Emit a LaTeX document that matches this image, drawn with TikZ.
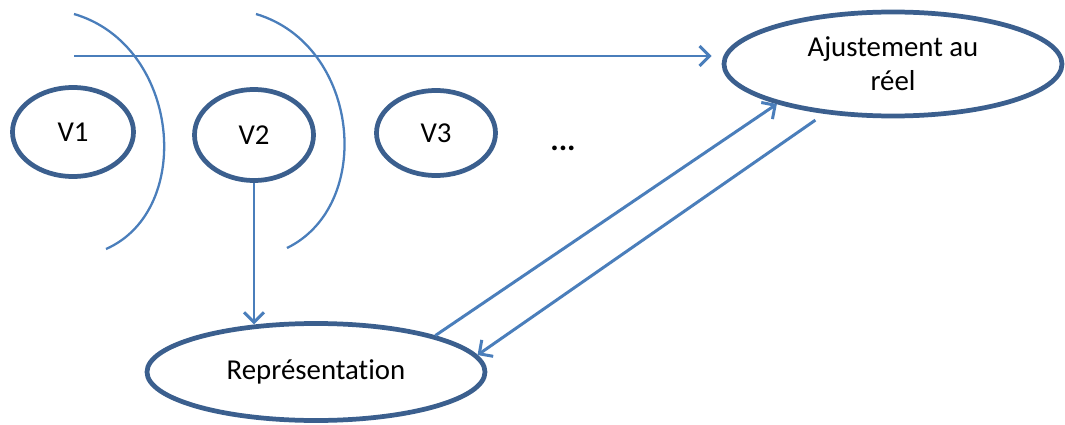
\documentclass[tikz,border=0pt]{standalone}
\usepackage{fontspec}
\setmainfont{Carlito}[Ligatures=NoCommon]
\usetikzlibrary{positioning,arrows.meta,shapes.geometric}
\definecolor{rim}{HTML}{3B5F8E}
\definecolor{link}{HTML}{4A7EBB}

\begin{document}
\begin{tikzpicture}[x=0.2mm,y=-0.2mm,
    bubble/.style={ellipse,draw=rim,line width=2.7pt,inner sep=0pt,
        font=\fontsize{16.4}{19.5}\selectfont,align=center},
    conn/.style={draw=link,line width=1.7pt,-{Straight Barb[length=2mm,width=4mm]}},
    wave/.style={draw=link,line width=1.3pt}]
    \useasboundingbox (0,0) rectangle (1065,425);
    %Versions
    \node[bubble,minimum width=24.2mm,minimum height=17.8mm] (v1) at (73,132) {V1};
    \node[bubble,minimum width=23.8mm,minimum height=18.2mm] (v2) at (254,135) {V2};
    \node[bubble,minimum width=23.8mm,minimum height=17mm] (v3) at (436,133) {V3};
    \node[font=\fontsize{18}{20}\selectfont\bfseries] (more) at (563,148) {...};
    %Waves
    \draw[wave] (74,14) .. controls (180,45) and (195,210) .. (106,249);
    \draw[wave] (256,14) .. controls (360,45) and (375,205) .. (287,248);
    %Adjustment
    \node[bubble,minimum width=67.6mm,minimum height=20.8mm] (ajust) at (893,64) {Ajustement au\\réel};
    \coordinate (top) at (74,56);
    \draw[conn,shorten >=2mm] (top) -- (top -| ajust.west);
    %Representation
    \node[bubble,minimum width=67.6mm,minimum height=19.4mm] (repr) at (316,372) {Représentation};
    \draw[conn] (v2.south) -- (v2.south |- repr.142);
    %Loop
    \draw[conn] (repr.17) -- (ajust.199);
    \draw[conn,shorten <=2.2mm] (ajust.216) -- (repr.6);
\end{tikzpicture}
\end{document}
